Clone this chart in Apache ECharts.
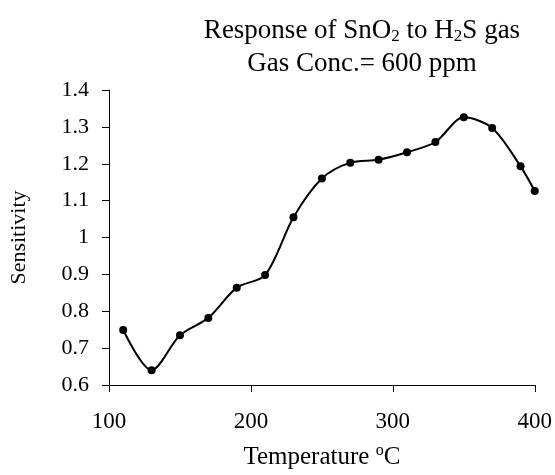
<!DOCTYPE html>
<html>
<head>
<meta charset="utf-8">
<script src="https://cdn.jsdelivr.net/npm/echarts@6/dist/echarts.min.js"></script>
<style>html,body{margin:0;padding:0;background:#fff}#c{width:555px;height:475px}</style>
</head>
<body>
<div id="c"></div>
<script>
var temperatures = [110, 130, 150, 170, 190, 210, 230, 250, 270, 290, 310, 330, 350, 370, 390, 400];
var sensitivity = [0.749, 0.640, 0.735, 0.782, 0.864, 0.898, 1.055, 1.160, 1.203, 1.211, 1.231, 1.259, 1.326, 1.297, 1.193, 1.126];
var yTicks = [0.6, 0.7, 0.8, 0.9, 1, 1.1, 1.2, 1.3, 1.4];
var xTicks = [100, 200, 300, 400];

var FONT = '"Liberation Serif", "Times New Roman", serif';
var chart = echarts.init(document.getElementById('c'), null, {renderer: 'canvas'});
var data = temperatures.map(function (t, i) { return [t, sensitivity[i]]; });

chart.setOption({
  animation: false,
  backgroundColor: '#fff',
  title: [{
    text: 'Response of SnO{sub|2} to H{sub|2}S gas',
    left: 357, top: 12, textAlign: 'center',
    textStyle: {
      fontFamily: FONT, fontSize: 27, fontWeight: 'normal', color: '#000',
      rich: { sub: { fontFamily: FONT, fontSize: 17, color: '#000', padding: [11, 0, 0, 0] } }
    }
  }, {
    text: 'Gas Conc.= 600 ppm',
    left: 357, top: 45, textAlign: 'center',
    textStyle: { fontFamily: FONT, fontSize: 27, fontWeight: 'normal', color: '#000' }
  }],
  grid: { left: 107, right: 20, top: 90, bottom: 85, containLabel: false },
  xAxis: {
    type: 'value', min: xTicks[0], max: xTicks[xTicks.length - 1], interval: 100,
    name: 'Temperature {sup|o}C', nameLocation: 'middle', nameGap: 58,
    nameTextStyle: {
      fontFamily: FONT, fontSize: 25, color: '#000',
      rich: { sup: { fontFamily: FONT, fontSize: 16, color: '#000', padding: [0, 0, 13, 0] } }
    },
    axisLine: { lineStyle: { color: '#000', width: 1 } },
    axisTick: { show: true, inside: false, length: 7, lineStyle: { color: '#000' } },
    axisLabel: { fontFamily: FONT, fontSize: 23, color: '#000', margin: 25 },
    splitLine: { show: false }
  },
  yAxis: {
    type: 'value', min: yTicks[0], max: yTicks[yTicks.length - 1], interval: 0.1,
    name: 'Sensitivity', nameLocation: 'middle', nameGap: 79, nameRotate: 90,
    nameTextStyle: { fontFamily: FONT, fontSize: 22, color: '#000' },
    axisLine: { show: true, lineStyle: { color: '#000', width: 1 } },
    axisTick: { show: true, inside: false, length: 7, lineStyle: { color: '#000' } },
    axisLabel: { fontFamily: FONT, fontSize: 22, color: '#000', margin: 20 },
    splitLine: { show: false }
  },
  series: [{
    type: 'line',
    data: data,
    smooth: 0.3,
    symbol: 'circle',
    symbolSize: 8,
    itemStyle: { color: '#000' },
    lineStyle: { color: '#000', width: 2 }
  }]
});
</script>
</body>
</html>
